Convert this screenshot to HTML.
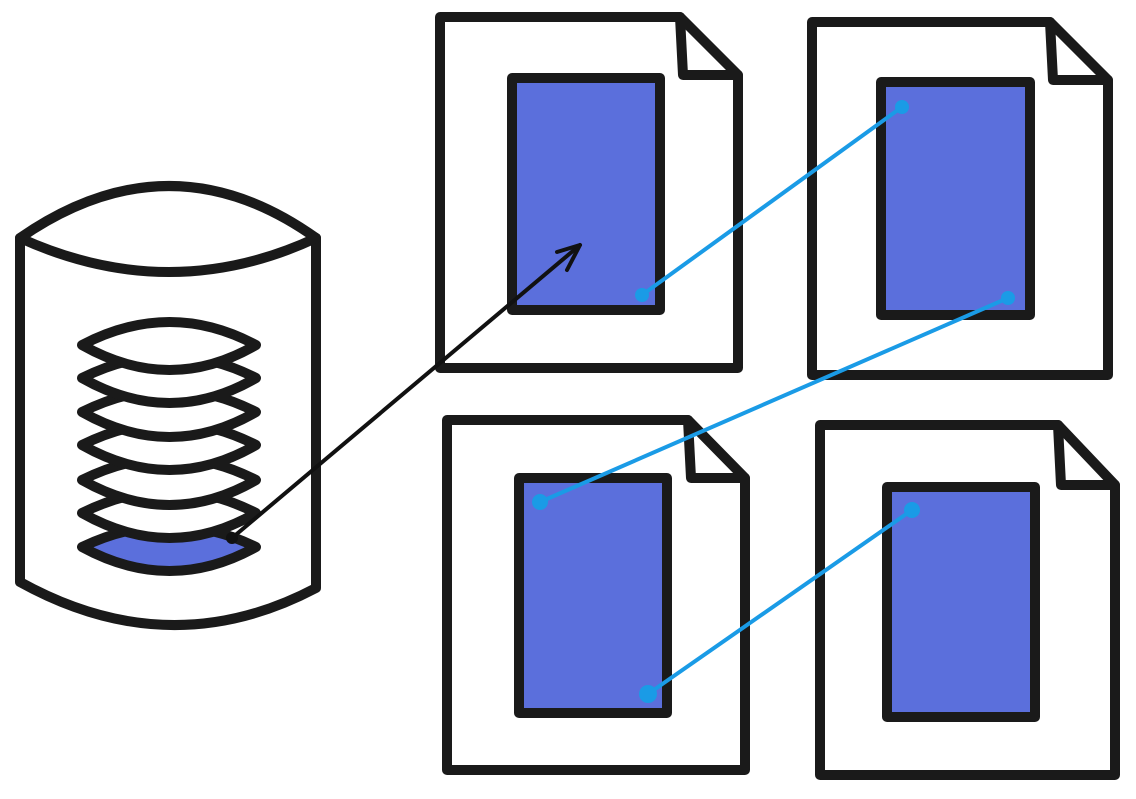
<!DOCTYPE html>
<html><head><style>html,body{margin:0;padding:0;background:#fff;}svg{display:block}</style></head>
<body>
<svg width="1136" height="799" viewBox="0 0 1136 799" xmlns="http://www.w3.org/2000/svg">
<g fill="#fff" stroke="#1a1a1a" stroke-width="10" stroke-linejoin="round" stroke-linecap="round">
<!-- cylinder -->
<path d="M20,238 Q170,134 316,238 L316,588 Q170,665 20,582 Z"/>
<path d="M20,238 Q170,306 316,238" fill="none"/>
<!-- disks (bottom first) -->
<path d="M82,547 Q170,505 256,547 Q170,595 82,547 Z" fill="#5b6fdc"/>
<path d="M82,513 Q170,469 256,513 Q170,563 82,513 Z"/>
<path d="M82,480 Q170,436 256,480 Q170,530 82,480 Z"/>
<path d="M82,445 Q170,401 256,445 Q170,495 82,445 Z"/>
<path d="M82,412 Q170,368 256,412 Q170,462 82,412 Z"/>
<path d="M82,378 Q170,334 256,378 Q170,428 82,378 Z"/>
<path d="M82,345 Q170,299 256,345 Q170,395 82,345 Z"/>
<!-- docs -->
<path d="M440,17 L680,17 L738,75 L738,368 L440,368 Z"/>
<path d="M680,17 L683,75 L738,75" fill="none"/>
<rect x="512" y="78" width="148" height="232" fill="#5b6fdc"/>
<path d="M812,22 L1050,22 L1108,80 L1108,375 L812,375 Z"/>
<path d="M1050,22 L1053,80 L1108,80" fill="none"/>
<rect x="881" y="82" width="149" height="233" fill="#5b6fdc"/>
<path d="M447,420 L688,420 L745,478 L745,770 L447,770 Z"/>
<path d="M688,420 L691,478 L745,478" fill="none"/>
<rect x="519" y="478" width="148" height="235" fill="#5b6fdc"/>
<path d="M820,425 L1058,425 L1115,485 L1115,775 L820,775 Z"/>
<path d="M1058,425 L1061,485 L1115,485" fill="none"/>
<rect x="887" y="487" width="148" height="230" fill="#5b6fdc"/>
</g>
<!-- black arrow -->
<g stroke="#111" stroke-width="4" fill="none" stroke-linecap="round" stroke-linejoin="round">
<line x1="232" y1="538" x2="580" y2="245"/>
<path d="M557,252 L580,245 L567,270"/>
</g>
<circle cx="232" cy="538" r="6" fill="#111"/>
<!-- blue connectors -->
<g stroke="#1a9be6" stroke-width="4" stroke-linecap="round">
<line x1="642" y1="295" x2="902" y2="107"/>
<line x1="1008" y1="298" x2="540" y2="502"/>
<line x1="648" y1="694" x2="912" y2="510"/>
</g>
<g fill="#1a9be6">
<circle cx="642" cy="295" r="7"/><circle cx="902" cy="107" r="7"/>
<circle cx="1008" cy="298" r="7"/><circle cx="540" cy="502" r="8"/>
<circle cx="648" cy="694" r="9"/><circle cx="912" cy="510" r="8"/>
</g>
</svg>
</body></html>
